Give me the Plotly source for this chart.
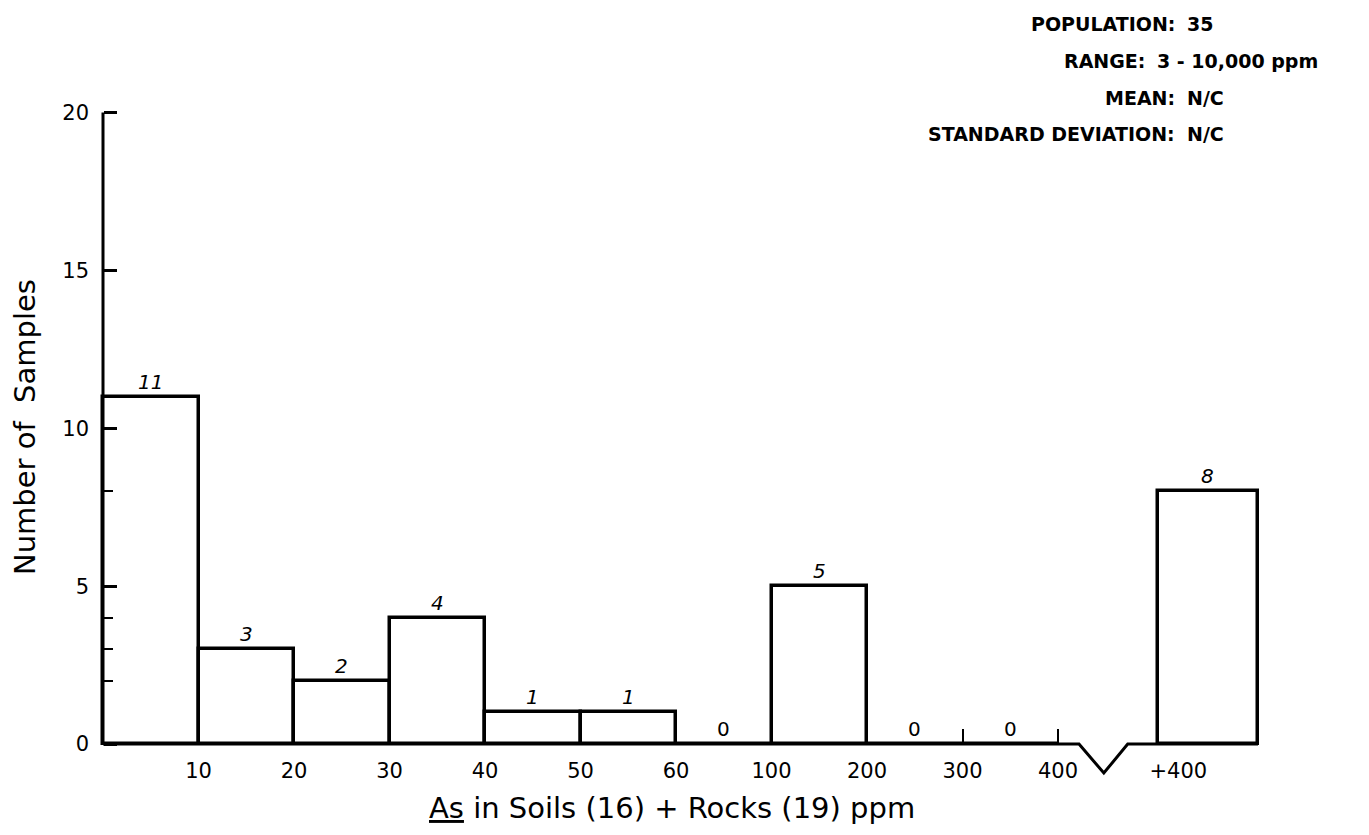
import plotly.graph_objects as go

# ---------------- data ----------------
bin_labels = ["0-10", "10-20", "20-30", "30-40", "40-50", "50-60",
              "60-100", "100-200", "200-300", "300-400", "+400"]
counts = [11, 3, 2, 4, 1, 1, 0, 5, 0, 0, 8]
edge_labels = ["10", "20", "30", "40", "50", "60", "100", "200", "300", "400"]
open_label = "+400"
y_major = [0, 5, 10, 15, 20]
y_minor = [2, 3, 4, 8]
stats_names = ["POPULATION:", "RANGE:", "MEAN:", "STANDARD DEVIATION:"]
stats_values = ["35", "3 - 10,000 ppm", "N/C", "N/C"]

# ---------------- geometry ----------------
FONT = "DejaVu Sans"
PAGE_OFF = 8                      # default body margin of the html page
W, H = 1369 - PAGE_OFF, 835 - PAGE_OFF
ML, MR, MT, MB = 48, 62, 84, 40
plot_w = W - ML - MR
plot_h = H - MT - MB

# screen mapping of axis units (one class interval = 1 unit)
X0_PX, X_UNIT = 103.0, 95.5       # screen x of the y axis, px per class
Y0_PX, Y_UNIT = 744.0, 31.57      # screen y of count 0, px per count

X_RANGE = [(ML + PAGE_OFF - X0_PX) / X_UNIT,
           (ML + PAGE_OFF + plot_w - X0_PX) / X_UNIT]
Y_RANGE = [(Y0_PX - (MT + PAGE_OFF + plot_h)) / Y_UNIT,
           (Y0_PX - (MT + PAGE_OFF)) / Y_UNIT]

OPEN_BIN = [11.047, 12.094]        # the open "+400" class placed after the break
OPEN_LABEL_X = 11.26
BREAK = [10.22, 10.48, 10.73]
BREAK_DEPTH = -0.92


def fx(p):  # screen px -> paper x
    return (p - PAGE_OFF - ML) / plot_w


def fy(p):  # screen px -> paper y
    return (H - MB + PAGE_OFF - p) / plot_h


n_closed = len(edge_labels)
lefts = list(range(0, n_closed)) + [OPEN_BIN[0]]
rights = list(range(1, n_closed + 1)) + [OPEN_BIN[1]]
centers = [(a + b) / 2 for a, b in zip(lefts, rights)]
widths = [b - a for a, b in zip(lefts, rights)]

fig = go.Figure()

# bars
fig.add_trace(go.Bar(
    x=centers, y=counts, width=widths,
    marker=dict(color="white", line=dict(color="black", width=3.5)),
    hovertext=bin_labels, showlegend=False,
))

# baseline with the axis break
bx = [0, BREAK[0], BREAK[1], BREAK[2], OPEN_BIN[1]]
by = [0, 0, BREAK_DEPTH, 0, 0]
fig.add_trace(go.Scatter(x=bx, y=by, mode="lines",
                         line=dict(color="black", width=3),
                         showlegend=False, hoverinfo="skip"))
# y axis line
fig.add_trace(go.Scatter(x=[0, 0], y=[0, y_major[-1]],
                         mode="lines", line=dict(color="black", width=3),
                         showlegend=False, hoverinfo="skip"))

annotations = []
# count labels
for c, v in zip(centers, counts):
    style = "italic" if v > 0 else "normal"
    annotations.append(dict(x=c, y=v, xref="x", yref="y", text=str(v),
                            showarrow=False, yanchor="middle", yshift=15,
                            font=dict(family=FONT, size=20, color="black",
                                      style=style)))

# stats block
stat_rows = [24, 61, 98, 134]
colon_x = [1177, 1147, 1177, 1177]
for name, val, row, cx in zip(stats_names, stats_values, stat_rows, colon_x):
    annotations.append(dict(x=fx(cx), y=fy(row), xref="paper", yref="paper",
                            text=name, showarrow=False, xanchor="right",
                            yanchor="middle",
                            font=dict(family=FONT, size=19, color="black",
                                      weight="bold")))
    annotations.append(dict(x=fx(cx + 8), y=fy(row), xref="paper", yref="paper",
                            text=val, showarrow=False, xanchor="left",
                            yanchor="middle",
                            font=dict(family=FONT, size=19, color="black",
                                      weight="bold")))

# axis titles
annotations.append(dict(x=fx(672), y=fy(808), xref="paper", yref="paper",
                        text="<u>As</u> in Soils (16) + Rocks (19) ppm",
                        showarrow=False, xanchor="center", yanchor="middle",
                        font=dict(family=FONT, size=29, color="black")))
annotations.append(dict(x=fx(25), y=fy(427), xref="paper", yref="paper",
                        text="Number of\u00a0 Samples", textangle=-90,
                        showarrow=False, xanchor="center", yanchor="middle",
                        font=dict(family=FONT, size=29, color="black")))

tickvals_x = list(range(1, n_closed + 1)) + [OPEN_LABEL_X]
ticktext_x = edge_labels + [open_label]

fig.update_layout(
    width=W, height=H,
    margin=dict(l=ML, r=MR, t=MT, b=MB),
    plot_bgcolor="white", paper_bgcolor="white",
    bargap=0, showlegend=False,
    annotations=annotations,
    xaxis=dict(range=X_RANGE, showgrid=False, zeroline=False, showline=False,
               anchor="free",
               position=(0 - Y_RANGE[0]) / (Y_RANGE[1] - Y_RANGE[0]),
               tickmode="array", tickvals=tickvals_x, ticktext=ticktext_x,
               ticks="", ticklabelstandoff=12,
               tickfont=dict(family=FONT, size=21, color="black"),
               minor=dict(tickmode="array", tickvals=[n_closed - 1, n_closed],
                          ticks="inside", ticklen=15, tickwidth=2,
                          tickcolor="black")),
    yaxis=dict(range=Y_RANGE, showgrid=False, zeroline=False, showline=False,
               anchor="free",
               position=(0 - X_RANGE[0]) / (X_RANGE[1] - X_RANGE[0]),
               tickmode="array", tickvals=y_major,
               ticks="inside", ticklen=13, tickwidth=2.5, tickcolor="black",
               ticklabelstandoff=14,
               tickfont=dict(family=FONT, size=21, color="black"),
               minor=dict(tickmode="array", tickvals=y_minor,
                          ticks="inside", ticklen=9, tickwidth=2,
                          tickcolor="black")),
)

fig.write_html("out.html")
